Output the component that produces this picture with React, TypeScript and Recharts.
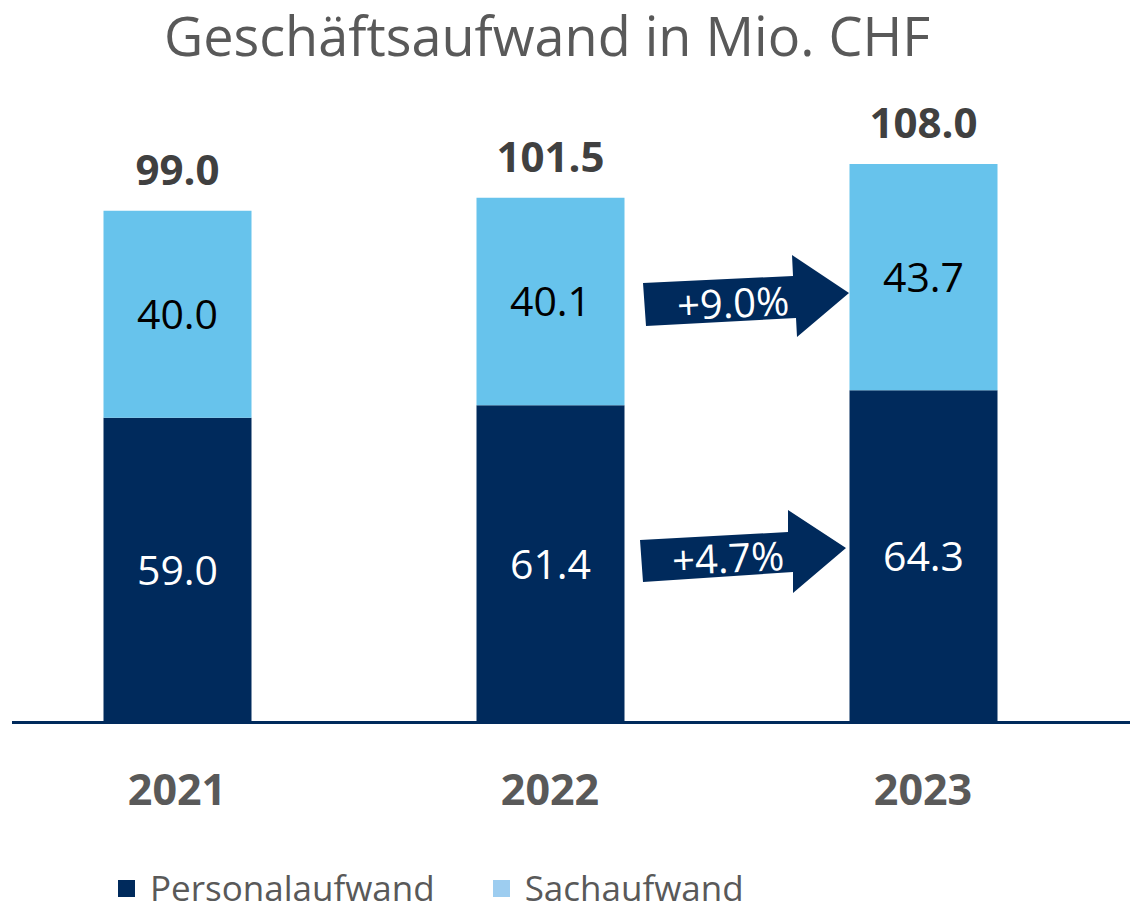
import React from 'react';
import { BarChart, Bar, XAxis, YAxis, LabelList } from 'recharts';

const years = ['2021', '2022', '2023'];
const personalaufwand = [59.0, 61.4, 64.3];
const sachaufwand = [40.0, 40.1, 43.7];
const totals = [99.0, 101.5, 108.0];
const growthLabels = ['+9.0%', '+4.7%'];

const NAVY = '#002A5C';
const LIGHT = '#67C3EC';
const LEGEND_LIGHT = '#9DCDF0';
const GREY = '#595959';
const FONT = '"Open Sans", sans-serif';

const data = years.map((y, i) => ({
  year: y,
  personal: personalaufwand[i],
  sach: sachaufwand[i],
  total: totals[i],
}));

const legendItems = [
  { name: 'Personalaufwand', color: NAVY },
  { name: 'Sachaufwand', color: LEGEND_LIGHT },
];

const fmt = (v: any) => Number(v).toFixed(1);

// growth arrows between 2022 and 2023 bars
const Arrow = ({ points, label, tx, ty }: { points: string; label: string; tx: number; ty: number }) => (
  <g>
    <polygon points={points} fill={NAVY} />
    <text
      x={tx}
      y={ty}
      fill="#fff"
      fontSize={40}
      fontFamily={FONT}
      textAnchor="middle"
      dominantBaseline="central"
      transform={`rotate(-2.5 ${tx} ${ty})`}
    >
      {label}
    </text>
  </g>
);

export default function App() {
  return (
    <div style={{ position: 'absolute', left: 0, top: 0, width: 1138, height: 913, background: '#fff' }}>
      <div
        style={{
          position: 'absolute',
          left: 0,
          top: 0,
          width: 1094,
          textAlign: 'center',
          fontFamily: FONT,
          fontSize: 54,
          lineHeight: '70px',
          color: GREY,
        }}
      >
        Geschäftsaufwand in Mio. CHF
      </div>
      <BarChart
        width={1138}
        height={913}
        data={data}
        margin={{ top: 102, right: 28.5, left: -9.5, bottom: 90 }}
        style={{ position: 'absolute', left: 0, top: 0 }}
      >
        <XAxis
          dataKey="year"
          axisLine={false}
          tickLine={false}
          tickSize={0}
          tickMargin={51}
          height={100}
          tick={{ fill: GREY, fontSize: 43, fontWeight: 'bold', fontFamily: FONT }}
        />
        <YAxis hide domain={[0, 120]} />
        <Bar dataKey="personal" stackId="a" fill={NAVY} barSize={148} isAnimationActive={false}>
          <LabelList dataKey="personal" position="center" fill="#fff" fontSize={41} fontFamily={FONT} formatter={fmt} />
        </Bar>
        <Bar dataKey="sach" stackId="a" fill={LIGHT} barSize={148} isAnimationActive={false}>
          <LabelList dataKey="sach" position="center" fill="#000" fontSize={41} fontFamily={FONT} formatter={fmt} />
          <LabelList
            dataKey="total"
            position="top"
            offset={26}
            fill="#404040"
            fontSize={42}
            fontWeight="bold"
            fontFamily={FONT}
            formatter={fmt}
          />
        </Bar>
      </BarChart>
      <div style={{ position: 'absolute', left: 12, top: 721, width: 1118, height: 3, background: NAVY }} />
      <div
        style={{
          position: 'absolute',
          left: 118,
          top: 870,
          display: 'flex',
          alignItems: 'center',
          fontFamily: FONT,
        }}
      >
        {legendItems.map((it, i) => (
          <div key={it.name} style={{ display: 'flex', alignItems: 'center', marginRight: i === 0 ? 58 : 0 }}>
            <div style={{ width: 17, height: 17, background: it.color, marginRight: 15 }} />
            <span style={{ fontSize: 35, color: GREY, lineHeight: '36px' }}>{it.name}</span>
          </div>
        ))}
      </div>
      <svg width={1138} height={913} style={{ position: 'absolute', left: 0, top: 0, pointerEvents: 'none' }}>
        <Arrow
          points="643,283 793,276 792,255 849,293 797,337 796,318 646,326"
          label={growthLabels[0]}
          tx={733}
          ty={302}
        />
        <Arrow
          points="640,540 788,532 788,510 846,548 793,593 793,572 643,582"
          label={growthLabels[1]}
          tx={728}
          ty={557}
        />
      </svg>
    </div>
  );
}
